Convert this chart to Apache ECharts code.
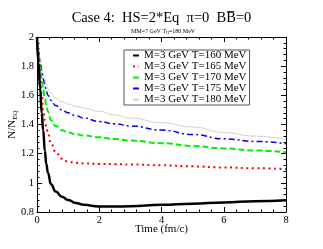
<!DOCTYPE html>
<html>
<head>
<meta charset="utf-8">
<script src="https://cdn.jsdelivr.net/npm/echarts@6/dist/echarts.min.js"></script>
<style>html,body{margin:0;padding:0;background:#fff;}#c{width:323px;height:249px;}</style>
</head>
<body>
<div id="c"></div>
<script>
var times = [0,0.05,0.1,0.15,0.2,0.25,0.3,0.35,0.45,0.6,0.8,1,1.25,1.5,2,2.5,3,4,5,6,7,8];
var t160 = [2.0,1.82,1.65,1.48,1.36,1.22,1.13,1.07,0.99,0.94,0.905,0.882,0.861,0.849,0.838,0.837,0.84,0.849,0.857,0.866,0.873,0.88];
var t165 = [2.0,1.85,1.72,1.6,1.5,1.43,1.385,1.34,1.27,1.21,1.165,1.145,1.137,1.133,1.13,1.128,1.126,1.12,1.113,1.105,1.1,1.094];
var t170 = [2.0,1.88,1.79,1.71,1.64,1.58,1.53,1.49,1.43,1.39,1.36,1.345,1.333,1.325,1.312,1.3,1.29,1.272,1.253,1.236,1.222,1.209];
var t175 = [2.0,1.9,1.83,1.76,1.71,1.67,1.63,1.6,1.565,1.53,1.5,1.48,1.46,1.445,1.42,1.405,1.39,1.362,1.332,1.302,1.284,1.268];
var t180 = [2.0,1.92,1.86,1.8,1.75,1.71,1.675,1.645,1.61,1.58,1.555,1.54,1.525,1.512,1.49,1.465,1.445,1.412,1.383,1.345,1.32,1.298];
var seriesNames = ['M=3 GeV T=160 MeV','M=3 GeV T=165 MeV','M=3 GeV T=170 MeV','M=3 GeV T=175 MeV','M=3 GeV T=180 MeV'];
var xTicks = {min:0, max:8, interval:2};
var yTicks = {min:0.8, max:2, interval:0.2};

function pairs(v){ return times.map(function(t,i){ return [t, v[i]]; }); }
var F = 'Liberation Serif, Times New Roman, serif';
var styles = [
  {color:'#000000', width:2.5, type:'solid'},
  {color:'#ff0000', width:2, type:[2,3.5]},
  {color:'#00ee00', width:2, type:[6,3]},
  {color:'#0000ff', width:1.5, type:[6,3,2,3]},
  {color:'#d0d0d0', width:1, type:'solid'}
];
var vals = [t160,t165,t170,t175,t180];
var series = vals.map(function(v,i){
  return {
    name: seriesNames[i], type:'line', data: pairs(v), showSymbol:false, symbol:'none',
    smooth:true, smoothMonotone:'x', z: 10 - i,
    lineStyle:{color:styles[i].color, width:styles[i].width, type:styles[i].type, cap:'butt'},
    itemStyle:{color:styles[i].color}
  };
});
function xAx(pos, show){
  return {type:'value', position:pos, min:xTicks.min, max:xTicks.max, interval:xTicks.interval,
    axisLine:{show:true, onZero:false, lineStyle:{color:'#000', width:1}},
    axisTick:{show:true, inside:true, length:5, lineStyle:{color:'#000'}},
    minorTick:{show:true, splitNumber:5, length:2.5, lineStyle:{color:'#000'}},
    splitLine:{show:false}, minorSplitLine:{show:false},
    axisLabel:{show:show, margin:3, color:'#000', fontFamily:F, fontSize:10.5},
    name: show ? 'Time (fm/c)' : '', nameLocation:'middle', nameGap:12, nameMoveOverlap:false,
    nameTextStyle:{color:'#000', fontFamily:F, fontSize:11}
  };
}
function yAx(pos, show){
  return {type:'value', position:pos, min:yTicks.min, max:yTicks.max, interval:yTicks.interval,
    axisLine:{show:true, onZero:false, lineStyle:{color:'#000', width:1}},
    axisTick:{show:true, inside:true, length:5, lineStyle:{color:'#000'}},
    minorTick:{show:true, splitNumber:5, length:2.5, lineStyle:{color:'#000'}},
    splitLine:{show:false}, minorSplitLine:{show:false},
    axisLabel:{show:show, margin:3, color:'#000', fontFamily:F, fontSize:10.5},
    name: show ? '{a|N/N}{s|EQ}' : '', nameLocation:'middle', nameGap:18, nameRotate:90, nameMoveOverlap:false,
    nameTextStyle:{color:'#000', fontFamily:F, fontSize:11,
      rich:{a:{fontFamily:F, fontSize:11, color:'#000'}, s:{fontFamily:F, fontSize:7, color:'#000', padding:[6,0,0,0]}}}
  };
}
var chart = echarts.init(document.getElementById('c'), null, {renderer:'canvas'});
chart.setOption({
  backgroundColor:'#fff',
  animation:false,
  title:[
    {text:'Case 4:  HS=2*Eq  \u03c0=0  BB\u0305=0', left:'center', top:6,
      textStyle:{fontFamily:F, fontSize:14.5, fontWeight:'normal', color:'#000'}},
    {text:'{a|MM=7 GeV T}{s|H}{a|=180 MeV}', left:126, top:23,
      textStyle:{fontFamily:F, fontSize:6, fontWeight:'normal', color:'#000',
        rich:{a:{fontFamily:F, fontSize:6, color:'#000'}, s:{fontFamily:F, fontSize:4, color:'#000', padding:[3,0,0,0]}}}}
  ],
  grid:{left:37, right:37, top:37, bottom:37, containLabel:false, outerBoundsMode:'none'},
  legend:{show:true, orient:'vertical', left:124, top:50, itemWidth:6, itemHeight:8, itemGap:0,
    padding:[0,3,0,8], borderColor:'#555', borderWidth:1, backgroundColor:'#fff',
    itemStyle:{color:'rgba(0,0,0,0)', borderColor:'rgba(0,0,0,0)', borderWidth:0, opacity:0},
    textStyle:{fontFamily:F, fontSize:11, color:'#000', lineHeight:10, height:10},
    data: seriesNames},
  xAxis:[xAx('bottom', true), xAx('top', false)],
  yAxis:[yAx('left', true), yAx('right', false)],
  series: series
});
</script>
</body>
</html>
